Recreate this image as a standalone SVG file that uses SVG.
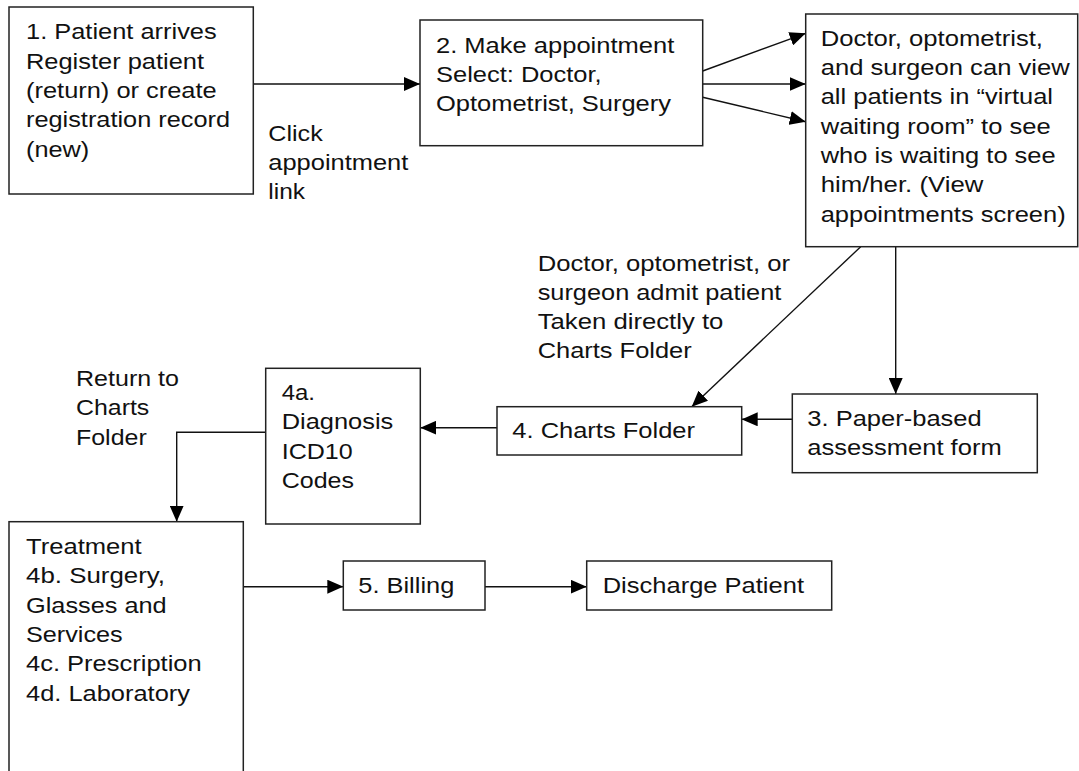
<svg xmlns="http://www.w3.org/2000/svg" width="1079" height="771" viewBox="0 0 1079 771">
  <style>
    .box { fill: #ffffff; stroke: #222222; stroke-width: 1.5; }
    .lbl { font-family: "Liberation Sans", Arial, sans-serif; font-size: 22px; fill: #111111; }
    .edge { fill: none; stroke: #111111; stroke-width: 1.4; }
  </style>
  <defs>
    <marker id="arrow" markerUnits="userSpaceOnUse" markerWidth="16" markerHeight="14" refX="16" refY="7" orient="auto">
      <path d="M0,0 L16,7 L0,14 Z" fill="#000000"/>
    </marker>
  </defs>
  <rect width="1079" height="771" fill="#ffffff"/>

  <g id="connectors">
    <line class="edge" x1="253.3" y1="84" x2="420" y2="84" marker-end="url(#arrow)"/>
    <line class="edge" x1="702.7" y1="71" x2="805.7" y2="33.3" marker-end="url(#arrow)"/>
    <line class="edge" x1="702.7" y1="84" x2="805.7" y2="84" marker-end="url(#arrow)"/>
    <line class="edge" x1="702.7" y1="97.3" x2="805.7" y2="121.7" marker-end="url(#arrow)"/>
    <line class="edge" x1="860.7" y1="246.7" x2="691.7" y2="406.7" marker-end="url(#arrow)"/>
    <line class="edge" x1="895.7" y1="246.7" x2="895.7" y2="394" marker-end="url(#arrow)"/>
    <line class="edge" x1="792.3" y1="419.3" x2="741.7" y2="419.3" marker-end="url(#arrow)"/>
    <line class="edge" x1="497" y1="427.7" x2="420.3" y2="427.7" marker-end="url(#arrow)"/>
    <polyline class="edge" points="265.7,432.3 176.7,432.3 176.7,521.7" marker-end="url(#arrow)"/>
    <line class="edge" x1="240" y1="586.7" x2="343.3" y2="586.7" marker-end="url(#arrow)"/>
    <line class="edge" x1="485" y1="586.7" x2="586.7" y2="586.7" marker-end="url(#arrow)"/>
  </g>

  <g id="edge-labels" class="lbl">
    <text x="268.3" y="140.5" textLength="54.4" lengthAdjust="spacingAndGlyphs">Click</text>
    <text x="268.3" y="169.8" textLength="140" lengthAdjust="spacingAndGlyphs">appointment</text>
    <text x="268.3" y="199.1" textLength="36.7" lengthAdjust="spacingAndGlyphs">link</text>

    <text x="537.7" y="270.5" textLength="252.3" lengthAdjust="spacingAndGlyphs">Doctor, optometrist, or</text>
    <text x="537.7" y="299.8" textLength="243.6" lengthAdjust="spacingAndGlyphs">surgeon admit patient</text>
    <text x="537.7" y="329.1" textLength="185.7" lengthAdjust="spacingAndGlyphs">Taken directly to</text>
    <text x="537.7" y="358.4" textLength="154" lengthAdjust="spacingAndGlyphs">Charts Folder</text>

    <text x="76" y="386" textLength="103" lengthAdjust="spacingAndGlyphs">Return to</text>
    <text x="76" y="415.3" textLength="73.3" lengthAdjust="spacingAndGlyphs">Charts</text>
    <text x="76" y="444.6" textLength="70.7" lengthAdjust="spacingAndGlyphs">Folder</text>
  </g>

  <g id="node-register">
    <rect class="box" x="9" y="7" width="244.3" height="187"/>
    <g class="lbl">
      <text x="26" y="39.3" textLength="190.7" lengthAdjust="spacingAndGlyphs">1. Patient arrives</text>
      <text x="26" y="68.6" textLength="178" lengthAdjust="spacingAndGlyphs">Register patient</text>
      <text x="26" y="97.9" textLength="190.7" lengthAdjust="spacingAndGlyphs">(return) or create</text>
      <text x="26" y="127.2" textLength="204" lengthAdjust="spacingAndGlyphs">registration record</text>
      <text x="26" y="156.5" textLength="63.3" lengthAdjust="spacingAndGlyphs">(new)</text>
    </g>
  </g>

  <g id="node-appointment">
    <rect class="box" x="420" y="20" width="282.7" height="125.7"/>
    <g class="lbl">
      <text x="436" y="52.5" textLength="238.3" lengthAdjust="spacingAndGlyphs">2. Make appointment</text>
      <text x="436" y="81.8" textLength="165.7" lengthAdjust="spacingAndGlyphs">Select: Doctor,</text>
      <text x="436" y="111" textLength="235" lengthAdjust="spacingAndGlyphs">Optometrist, Surgery</text>
    </g>
  </g>

  <g id="node-waiting-room">
    <rect class="box" x="805.7" y="14" width="272" height="232.7"/>
    <g class="lbl">
      <text x="820.7" y="45.7" textLength="222.3" lengthAdjust="spacingAndGlyphs">Doctor, optometrist,</text>
      <text x="820.7" y="75" textLength="249" lengthAdjust="spacingAndGlyphs">and surgeon can view</text>
      <text x="820.7" y="104.3" textLength="232.3" lengthAdjust="spacingAndGlyphs">all patients in “virtual</text>
      <text x="820.7" y="133.6" textLength="230" lengthAdjust="spacingAndGlyphs">waiting room” to see</text>
      <text x="820.7" y="162.9" textLength="235" lengthAdjust="spacingAndGlyphs">who is waiting to see</text>
      <text x="820.7" y="192.2" textLength="162.6" lengthAdjust="spacingAndGlyphs">him/her. (View</text>
      <text x="820.7" y="221.5" textLength="245" lengthAdjust="spacingAndGlyphs">appointments screen)</text>
    </g>
  </g>

  <g id="node-assessment">
    <rect class="box" x="792.3" y="394" width="245" height="78.7"/>
    <g class="lbl">
      <text x="807.3" y="425.7" textLength="174.4" lengthAdjust="spacingAndGlyphs">3. Paper-based</text>
      <text x="807.3" y="455" textLength="194.4" lengthAdjust="spacingAndGlyphs">assessment form</text>
    </g>
  </g>

  <g id="node-charts">
    <rect class="box" x="497" y="406.7" width="244.7" height="48.3"/>
    <text class="lbl" x="512.3" y="438.3" textLength="182.7" lengthAdjust="spacingAndGlyphs">4. Charts Folder</text>
  </g>

  <g id="node-diagnosis">
    <rect class="box" x="265.7" y="368.3" width="154.6" height="155.7"/>
    <g class="lbl">
      <text x="281.7" y="400" textLength="33.3" lengthAdjust="spacingAndGlyphs">4a.</text>
      <text x="281.7" y="429.3" textLength="111.6" lengthAdjust="spacingAndGlyphs">Diagnosis</text>
      <text x="281.7" y="458.6" textLength="71" lengthAdjust="spacingAndGlyphs">ICD10</text>
      <text x="281.7" y="487.9" textLength="72.3" lengthAdjust="spacingAndGlyphs">Codes</text>
    </g>
  </g>

  <g id="node-treatment">
    <rect class="box" x="9" y="521.7" width="234.3" height="262"/>
    <g class="lbl">
      <text x="26" y="554" textLength="115.7" lengthAdjust="spacingAndGlyphs">Treatment</text>
      <text x="26" y="583.3" textLength="139" lengthAdjust="spacingAndGlyphs">4b. Surgery,</text>
      <text x="26" y="612.6" textLength="140.7" lengthAdjust="spacingAndGlyphs">Glasses and</text>
      <text x="26" y="641.9" textLength="96.7" lengthAdjust="spacingAndGlyphs">Services</text>
      <text x="26" y="671.2" textLength="175.7" lengthAdjust="spacingAndGlyphs">4c. Prescription</text>
      <text x="26" y="700.5" textLength="164" lengthAdjust="spacingAndGlyphs">4d. Laboratory</text>
    </g>
  </g>

  <g id="node-billing">
    <rect class="box" x="343.3" y="561" width="141.7" height="49"/>
    <text class="lbl" x="358.3" y="593.3" textLength="96" lengthAdjust="spacingAndGlyphs">5. Billing</text>
  </g>

  <g id="node-discharge">
    <rect class="box" x="586.7" y="561" width="245" height="49"/>
    <text class="lbl" x="602.7" y="593.3" textLength="201.3" lengthAdjust="spacingAndGlyphs">Discharge Patient</text>
  </g>
</svg>
